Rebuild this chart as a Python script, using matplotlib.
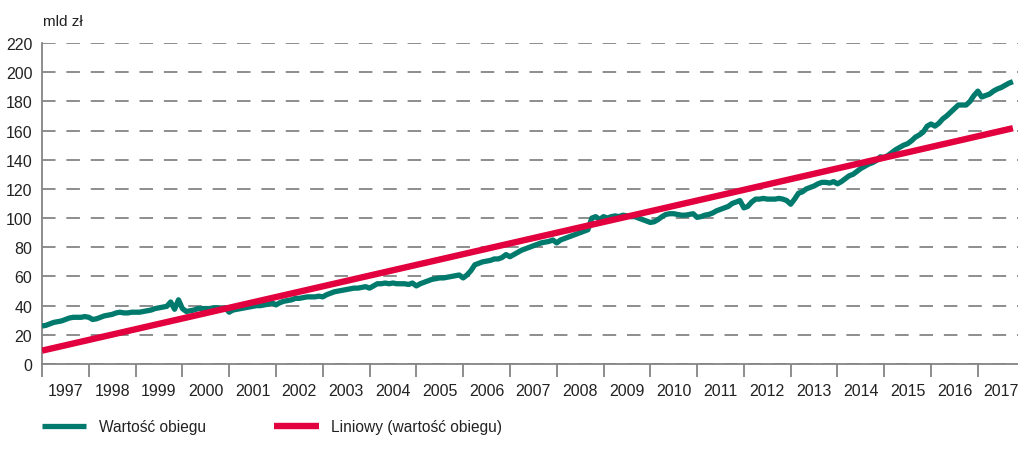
import numpy as np
import matplotlib.pyplot as plt

plt.rcParams['font.family'] = ['Liberation Sans', 'DejaVu Sans']

years = list(range(1997, 2018))

# monthly values, mld zl (Jan 1997 - Oct 2017)
v1997 = [26, 26.5, 27.5, 28.5, 29, 29.5, 30.5, 31.5, 32, 32, 32, 32.5]
v1998 = [32, 30.5, 31, 32, 33, 33.5, 34, 35, 35.5, 35, 35, 35.5]
v1999 = [35.5, 35.5, 36, 36.5, 37, 38, 38.5, 39, 39.5, 42.5, 37.5, 44]
v2000 = [38, 36, 36.5, 37, 38, 38, 38, 38, 38.5, 38.5, 38, 38.5]
v2001 = [35.5, 37, 37.5, 38, 38.5, 39, 39.5, 40, 40, 40.5, 41, 42]
v2002 = [40.5, 42, 43, 43.5, 44, 45, 45, 45.5, 46, 46, 46, 46.5]
v2003 = [46, 47.5, 48.5, 49.5, 50, 50.5, 51, 51.5, 52, 52, 52.5, 53]
v2004 = [52, 53.5, 55, 55, 55.5, 55, 55.5, 55, 55, 55, 54.5, 55.5]
v2005 = [53.5, 55, 56, 57, 58, 58.5, 59, 59, 59.5, 60, 60.5, 61]
v2006 = [59, 61, 64, 68, 69, 70, 70.5, 71, 72, 72, 73, 75]
v2007 = [73.5, 75, 76.5, 78, 79, 80, 81, 82, 83, 83.5, 84, 85]
v2008 = [83, 85, 86, 87, 88, 89, 90, 91, 92, 100, 101, 99]
v2009 = [101, 100, 101, 101.5, 101, 102, 101.5, 101, 101, 100, 99, 98]
v2010 = [97, 97.5, 99, 101, 102.5, 103, 103, 102.5, 102, 102, 102.5, 103]
v2011 = [100.5, 101, 102, 102.5, 103.5, 105, 106, 107, 108, 110, 111, 112]
v2012 = [107, 108, 111, 113, 113, 113.5, 113, 113, 113, 113.5, 113, 112]
v2013 = [109.5, 113, 117, 118, 120, 121, 122, 123.5, 124.5, 124.5, 124, 125]
v2014 = [123.5, 125, 127, 129, 130, 132, 134, 135.5, 137, 138, 139.5, 142]
v2015 = [141.5, 143, 145, 147, 148.5, 150, 151, 153, 155.5, 157, 159, 163]
v2016 = [164.5, 163, 165, 168, 170, 172.5, 175, 177.5, 177.5, 177.5, 180, 184]
v2017 = [187, 183, 184, 185, 187, 188.5, 189.5, 191, 192.5, 193.5]

values = np.array(v1997 + v1998 + v1999 + v2000 + v2001 + v2002 + v2003 + v2004
                  + v2005 + v2006 + v2007 + v2008 + v2009 + v2010 + v2011 + v2012
                  + v2013 + v2014 + v2015 + v2016 + v2017)
months = np.arange(len(values))

# linear trend (like Excel "Liniowy")
slope, intercept = np.polyfit(months, values, 1)
trend = intercept + slope * months

green = '#007a6c'
red = '#e2003e'
grey = '#858585'
txt = '#222222'

fig = plt.figure(figsize=(10.18, 4.64), dpi=100)
ax = fig.add_axes([42 / 1018, 1 - 365 / 464, 976 / 1018, 321 / 464])

ax.plot(months, values, color=green, lw=3.8, solid_capstyle='butt', label='Wartość obiegu', zorder=3)
ax.plot(months, trend, color=red, lw=4.6, solid_capstyle='butt', label='Liniowy (wartość obiegu)', zorder=4)

ax.set_xlim(0, 250.3)
ax.set_ylim(0, 220)
ax.set_yticks(range(0, 221, 20))
ax.yaxis.grid(True, color=grey, lw=1.3, ls=(0, (7.5, 6)))
ax.set_axisbelow(True)
ax.tick_params(axis='y', length=0, pad=7, labelsize=11.5, colors=txt)

ax.set_xticks([12 * i for i in range(len(years))])
ax.set_xticklabels([])
ax.set_xticks([12 * i + 6 for i in range(len(years))], minor=True)
ax.set_xticklabels([str(y) for y in years], minor=True)
ax.tick_params(axis='x', which='major', length=9, width=1.3, color=grey, direction='out')
ax.tick_params(axis='x', which='minor', length=0, pad=14, labelsize=11.5, colors=txt)

for s in ['top', 'right']:
    ax.spines[s].set_visible(False)
for s in ['left', 'bottom']:
    ax.spines[s].set_color(grey)
    ax.spines[s].set_linewidth(1.3)

fig.text(43 / 1018, 1 - 22 / 464, 'mld zł', fontsize=11, va='center', ha='left', color=txt)

fig.legend(loc='center left', bbox_to_anchor=(42 / 1018, 1 - 428 / 464), ncol=2,
           frameon=False, fontsize=11.2, handlelength=2.85, handletextpad=0.8,
           columnspacing=4.4, borderpad=0, borderaxespad=0, labelcolor=txt)

fig.savefig('out.png', dpi=100)
